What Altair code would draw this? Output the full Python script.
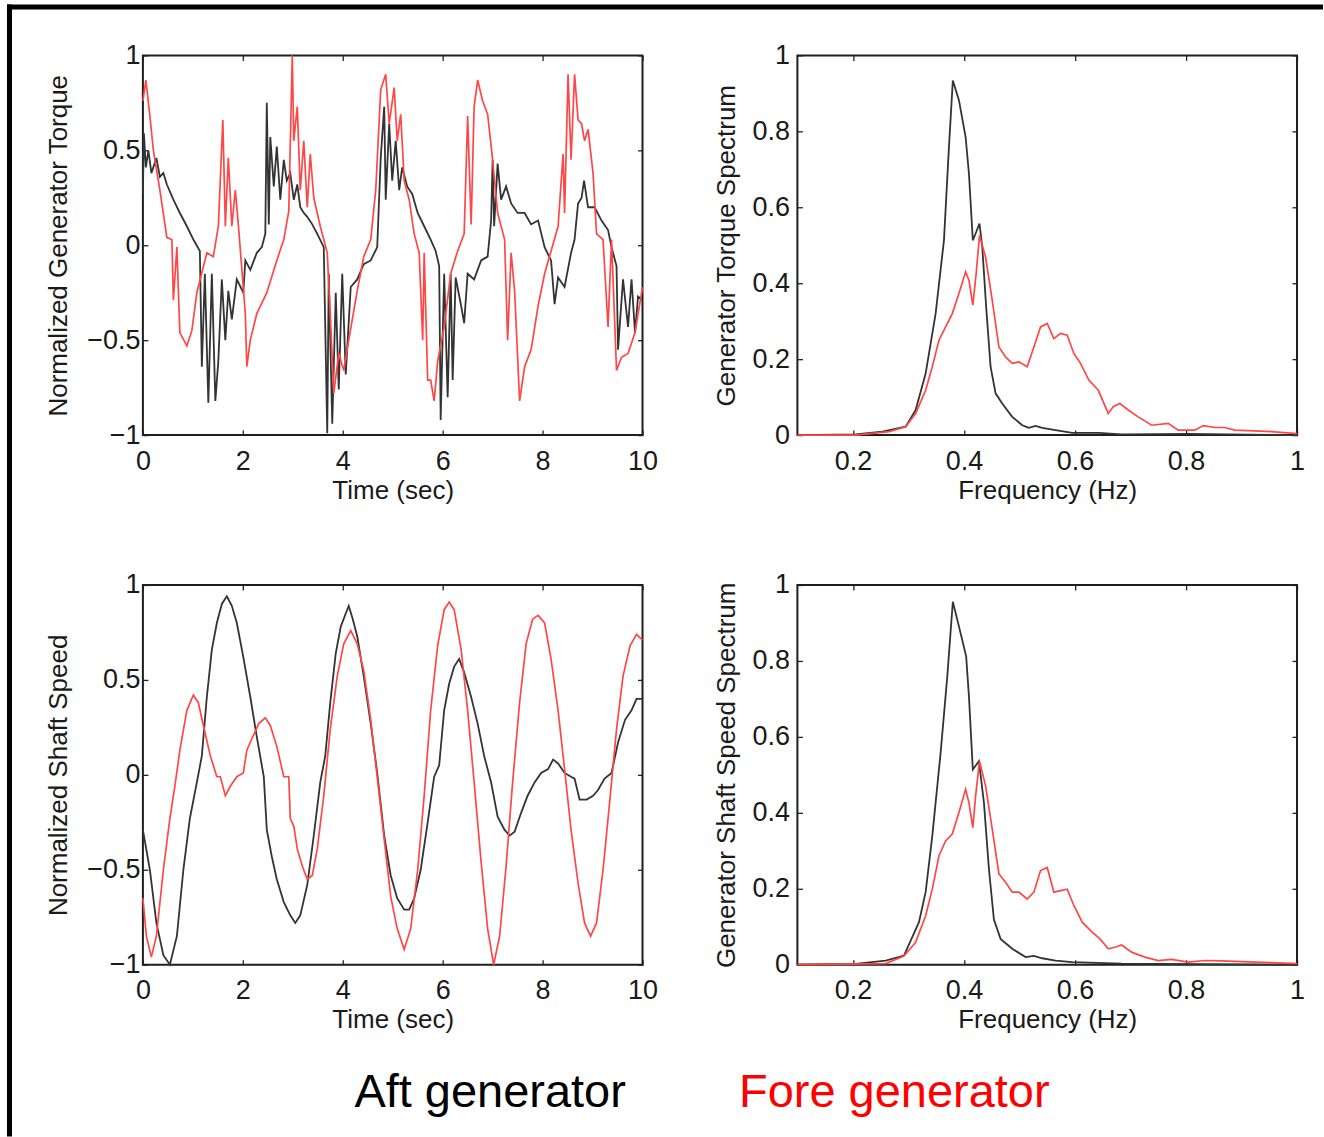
import altair as alt
import pandas as pd

# ---------------- data ----------------
# Normalized generator torque vs time (sec)
TQ_AFT = [(0.00,0.27),(0.02,0.59),(0.06,0.41),(0.11,0.50),(0.17,0.38),(0.27,0.46),(0.34,0.36),(0.41,0.38),
          (0.48,0.32),(0.61,0.24),(0.74,0.17),(0.88,0.10),(1.01,0.03),(1.14,-0.03),(1.18,-0.64),(1.24,-0.15),
          (1.31,-0.83),(1.38,-0.15),(1.45,-0.82),(1.51,-0.61),(1.58,-0.18),(1.65,-0.50),(1.71,-0.24),(1.78,-0.39),
          (1.88,-0.18),(2.01,-0.25),(2.05,-0.08),(2.15,-0.13),(2.28,-0.04),(2.38,-0.01),(2.45,0.06),(2.48,0.75),
          (2.52,0.11),(2.55,0.57),(2.62,0.31),(2.68,0.52),(2.75,0.24),(2.82,0.45),(2.88,0.34),(2.95,0.38),
          (3.02,0.24),(3.09,0.32),(3.15,0.20),(3.22,0.17),(3.29,0.15),(3.39,0.11),(3.49,0.06),(3.62,-0.01),
          (3.69,-0.99),(3.72,-0.15),(3.79,-0.94),(3.86,-0.25),(3.92,-0.76),(3.99,-0.15),(4.06,-0.68),(4.16,-0.22),
          (4.29,-0.18),(4.42,-0.10),(4.56,-0.08),(4.69,-0.01),(4.76,0.46),(4.83,0.73),(4.86,0.24),(4.93,0.64),
          (4.99,0.34),(5.06,0.55),(5.13,0.29),(5.19,0.41),(5.29,0.31),(5.39,0.27),(5.50,0.17),(5.63,0.10),
          (5.76,0.03),(5.86,-0.03),(5.93,-0.11),(5.96,-0.92),(6.03,-0.15),(6.10,-0.80),(6.16,-0.15),(6.20,-0.71),
          (6.26,-0.17),(6.37,-0.32),(6.43,-0.41),(6.50,-0.15),(6.63,-0.18),(6.77,-0.08),(6.90,-0.06),(6.97,0.13),
          (7.00,0.45),(7.03,0.10),(7.10,0.43),(7.17,0.24),(7.27,0.31),(7.37,0.22),(7.50,0.17),(7.64,0.17),
          (7.77,0.11),(7.91,0.13),(8.04,-0.01),(8.17,-0.08),(8.24,-0.31),(8.31,-0.17),(8.44,-0.22),(8.57,-0.04),
          (8.64,0.03),(8.71,0.22),(8.78,0.25),(8.83,0.34),(8.91,0.20),(9.04,0.20),(9.18,0.13),(9.31,0.08),
          (9.38,-0.01),(9.48,-0.11),(9.51,-0.55),(9.61,-0.18),(9.71,-0.43),(9.78,-0.18),(9.85,-0.46),(9.91,-0.27),
          (10.0,-0.29)]
TQ_FORE = [(0.00,0.76),(0.06,0.87),(0.14,0.68),(0.21,0.50),(0.34,0.29),(0.48,0.04),(0.58,0.03),(0.61,-0.29),
           (0.68,-0.01),(0.74,-0.46),(0.88,-0.53),(0.98,-0.45),(1.08,-0.25),(1.28,-0.04),(1.41,-0.06),(1.51,0.10),
           (1.60,0.66),(1.65,0.10),(1.71,0.46),(1.78,0.10),(1.85,0.29),(1.91,0.11),(2.05,-0.36),(2.08,-0.64),
           (2.15,-0.50),(2.28,-0.36),(2.48,-0.25),(2.68,-0.08),(2.82,0.03),(2.92,0.18),(2.99,1.00),(3.02,0.55),
           (3.09,0.73),(3.15,0.29),(3.22,0.55),(3.29,0.20),(3.35,0.48),(3.42,0.25),(3.55,0.10),(3.69,-0.04),
           (3.75,-0.36),(3.82,-0.78),(3.92,-0.57),(4.02,-0.66),(4.12,-0.50),(4.29,-0.24),(4.42,-0.06),(4.56,0.03),
           (4.66,0.29),(4.76,0.82),(4.86,0.90),(4.93,0.64),(5.03,0.83),(5.09,0.55),(5.16,0.69),(5.23,0.34),
           (5.33,0.24),(5.43,0.06),(5.53,-0.04),(5.60,-0.50),(5.63,-0.04),(5.70,-0.71),(5.76,-0.71),(5.83,-0.82),
           (5.90,-0.61),(6.03,-0.43),(6.16,-0.15),(6.30,-0.03),(6.43,0.06),(6.50,0.68),(6.57,0.11),(6.63,0.73),
           (6.70,0.87),(6.80,0.76),(6.90,0.69),(7.00,0.45),(7.10,0.17),(7.24,0.03),(7.30,-0.50),(7.37,-0.04),
           (7.44,-0.24),(7.54,-0.82),(7.64,-0.64),(7.77,-0.55),(7.91,-0.32),(8.04,-0.15),(8.17,-0.03),(8.31,0.10),
           (8.41,0.48),(8.44,0.17),(8.51,0.90),(8.57,0.45),(8.64,0.90),(8.71,0.66),(8.78,0.64),(8.84,0.55),
           (8.91,0.61),(9.01,0.38),(9.08,0.06),(9.21,0.03),(9.31,-0.43),(9.38,0.03),(9.48,-0.66),(9.58,-0.59),
           (9.71,-0.57),(9.85,-0.46),(10.0,-0.22)]

# Normalized shaft speed vs time (sec)
SP_AFT = [(0.00,-0.29),(0.14,-0.50),(0.27,-0.78),(0.41,-0.95),(0.54,-1.00),(0.68,-0.85),(0.81,-0.50),(0.94,-0.23),
          (1.08,-0.04),(1.18,0.10),(1.28,0.41),(1.38,0.66),(1.48,0.80),(1.58,0.90),(1.68,0.94),(1.78,0.89),
          (1.88,0.80),(2.01,0.62),(2.15,0.41),(2.28,0.20),(2.42,-0.01),(2.48,-0.29),(2.58,-0.43),(2.68,-0.55),
          (2.82,-0.67),(2.95,-0.74),(3.05,-0.78),(3.15,-0.74),(3.29,-0.58),(3.42,-0.32),(3.55,-0.04),(3.65,0.10),
          (3.75,0.38),(3.86,0.64),(3.96,0.78),(4.06,0.85),(4.12,0.89),(4.19,0.83),(4.29,0.73),(4.42,0.52),
          (4.56,0.27),(4.69,0.01),(4.83,-0.32),(4.96,-0.53),(5.09,-0.65),(5.23,-0.71),(5.33,-0.71),(5.43,-0.65),
          (5.56,-0.50),(5.70,-0.25),(5.83,-0.01),(5.93,0.05),(6.03,0.34),(6.13,0.48),(6.23,0.57),(6.33,0.61),
          (6.43,0.54),(6.57,0.41),(6.70,0.27),(6.83,0.10),(6.97,-0.04),(7.10,-0.22),(7.24,-0.29),(7.34,-0.32),
          (7.44,-0.30),(7.57,-0.20),(7.70,-0.11),(7.84,-0.04),(7.97,0.01),(8.11,0.03),(8.21,0.08),(8.31,0.06),
          (8.44,0.01),(8.57,-0.01),(8.64,-0.02),(8.74,-0.13),(8.88,-0.13),(9.01,-0.11),(9.11,-0.08),(9.24,-0.02),
          (9.38,0.01),(9.51,0.17),(9.65,0.29),(9.78,0.34),(9.88,0.40),(10.0,0.40)]
SP_FORE = [(0.00,-0.65),(0.07,-0.85),(0.17,-0.96),(0.27,-0.85),(0.41,-0.50),(0.54,-0.23),(0.64,-0.06),(0.74,0.13),
           (0.88,0.34),(1.01,0.42),(1.11,0.38),(1.21,0.26),(1.35,0.10),(1.48,-0.01),(1.55,-0.01),(1.65,-0.11),
           (1.75,-0.06),(1.88,-0.01),(2.01,0.01),(2.08,0.13),(2.18,0.19),(2.32,0.27),(2.45,0.30),(2.55,0.26),
           (2.68,0.15),(2.82,-0.01),(2.92,-0.01),(2.95,-0.23),(3.02,-0.27),(3.09,-0.39),(3.19,-0.48),(3.29,-0.55),
           (3.39,-0.53),(3.49,-0.39),(3.62,-0.11),(3.75,0.24),(3.89,0.52),(4.02,0.69),(4.16,0.76),(4.29,0.69),
           (4.42,0.55),(4.56,0.29),(4.69,-0.01),(4.83,-0.34),(4.96,-0.64),(5.09,-0.81),(5.23,-0.92),(5.36,-0.81),
           (5.50,-0.50),(5.63,-0.11),(5.76,0.34),(5.90,0.68),(6.03,0.87),(6.13,0.91),(6.23,0.87),(6.37,0.66),
           (6.50,0.34),(6.63,-0.04),(6.77,-0.46),(6.90,-0.81),(7.02,-1.00),(7.14,-0.85),(7.27,-0.48),(7.40,-0.04),
           (7.54,0.38),(7.67,0.69),(7.80,0.82),(7.91,0.84),(8.04,0.80),(8.17,0.61),(8.31,0.34),(8.44,0.03),
           (8.57,-0.29),(8.71,-0.57),(8.84,-0.78),(8.96,-0.85),(9.08,-0.78),(9.21,-0.50),(9.34,-0.15),(9.48,0.24),
           (9.61,0.52),(9.75,0.68),(9.88,0.74),(10.0,0.71)]

# Generator torque spectrum vs frequency (Hz)
TQS_AFT = [(0.100,0.000),(0.205,0.002),(0.253,0.009),(0.295,0.022),(0.313,0.066),(0.331,0.162),(0.349,0.320),
           (0.364,0.513),(0.373,0.759),(0.380,0.934),(0.391,0.882),(0.403,0.785),(0.409,0.689),(0.416,0.513),
           (0.421,0.531),(0.428,0.557),(0.433,0.496),(0.440,0.338),(0.448,0.180),(0.457,0.110),(0.469,0.083),
           (0.487,0.048),(0.505,0.026),(0.517,0.019),(0.529,0.024),(0.541,0.019),(0.565,0.013),(0.595,0.006),
           (0.643,0.006),(0.684,0.002),(0.804,0.003),(1.000,0.000)]
TQS_FORE = [(0.100,0.000),(0.205,0.000),(0.265,0.009),(0.295,0.022),(0.313,0.057),(0.331,0.118),(0.343,0.180),
            (0.355,0.250),(0.367,0.285),(0.379,0.320),(0.391,0.373),(0.403,0.430),(0.409,0.408),(0.416,0.342),
            (0.422,0.425),(0.428,0.526),(0.439,0.469),(0.451,0.355),(0.463,0.232),(0.475,0.206),(0.487,0.189),
            (0.499,0.193),(0.514,0.180),(0.526,0.232),(0.538,0.285),(0.550,0.294),(0.562,0.254),(0.574,0.268),
            (0.586,0.263),(0.598,0.215),(0.610,0.189),(0.625,0.145),(0.642,0.118),(0.660,0.057),(0.669,0.075),
            (0.681,0.083),(0.696,0.066),(0.714,0.048),(0.738,0.026),(0.768,0.031),(0.786,0.013),(0.816,0.013),
            (0.831,0.025),(0.852,0.020),(0.870,0.020),(0.888,0.013),(0.924,0.011),(0.954,0.009),(1.000,0.004)]

# Generator shaft speed spectrum vs frequency (Hz)
SPS_AFT = [(0.100,0.000),(0.205,0.002),(0.259,0.011),(0.292,0.024),(0.319,0.112),(0.331,0.191),(0.343,0.339),
           (0.358,0.558),(0.370,0.759),(0.380,0.956),(0.391,0.891),(0.404,0.812),(0.409,0.707),(0.416,0.514),
           (0.427,0.536),(0.436,0.427),(0.445,0.252),(0.454,0.119),(0.466,0.068),(0.487,0.042),(0.511,0.020),
           (0.526,0.023),(0.541,0.017),(0.565,0.011),(0.595,0.007),(0.684,0.003),(1.000,0.000)]
SPS_FORE = [(0.100,0.000),(0.259,0.003),(0.292,0.023),(0.313,0.059),(0.331,0.129),(0.343,0.199),(0.355,0.287),
            (0.367,0.326),(0.379,0.344),(0.391,0.401),(0.403,0.462),(0.409,0.427),(0.416,0.361),(0.421,0.444),
            (0.428,0.536),(0.439,0.471),(0.451,0.357),(0.463,0.239),(0.475,0.217),(0.487,0.191),(0.499,0.191),
            (0.514,0.173),(0.526,0.191),(0.538,0.248),(0.550,0.256),(0.562,0.191),(0.574,0.195),(0.586,0.199),
            (0.598,0.156),(0.613,0.112),(0.631,0.086),(0.645,0.068),(0.660,0.042),(0.672,0.046),(0.684,0.052),
            (0.702,0.033),(0.726,0.020),(0.750,0.011),(0.774,0.014),(0.804,0.007),(0.834,0.011),(0.864,0.010),
            (0.924,0.007),(1.000,0.003)]

TIME_TICKS = [0, 2, 4, 6, 8, 10]
NORM_TICKS = [-1, -0.5, 0, 0.5, 1]
FREQ_TICKS = [0.2, 0.4, 0.6, 0.8, 1]
SPEC_TICKS = [0, 0.2, 0.4, 0.6, 0.8, 1]
LEGEND_LABELS = ["Aft generator", "Fore generator"]

# ---------------- styling ----------------
AXFONT = "Liberation Sans"
BLACK = "#333333"
RED = "#ff4747"
W, H = 500, 380


def frame_df(pairs):
    return pd.DataFrame(pairs, columns=["x", "y"])


def panel(aft, fore, xdom, ydom, xticks, yticks, xfmt, xtitle, ytitle, lpad, ytp):
    xs = alt.Scale(domain=xdom, nice=False, zero=False)
    ys = alt.Scale(domain=ydom, nice=False, zero=False)
    common = dict(offset=-5, tickSize=5, tickWidth=1.3, tickColor="#222222", domain=False, grid=False,
                  labelFlush=False, labelOverlap=False)
    ax_b = alt.Axis(orient="bottom", values=xticks, format=xfmt, title=xtitle, labelPadding=13,
                    titlePadding=3, **common)
    ax_l = alt.Axis(orient="left", values=yticks, format="~g", title=ytitle, labelPadding=lpad,
                    titlePadding=ytp, **common)
    ax_t = alt.Axis(orient="top", values=xticks, title=None, labels=False, **common)
    ax_r = alt.Axis(orient="right", values=yticks, title=None, labels=False, **common)
    a = alt.Chart(frame_df(aft)).mark_line(color=BLACK, strokeWidth=1.8).encode(
        x=alt.X("x:Q", scale=xs, axis=ax_b),
        y=alt.Y("y:Q", scale=ys, axis=ax_l),
    )
    f = alt.Chart(frame_df(fore)).mark_line(color=RED, strokeWidth=1.7).encode(
        x=alt.X("x:Q", scale=xs, axis=ax_t),
        y=alt.Y("y:Q", scale=ys, axis=ax_r),
    )
    return a, f


tl = alt.layer(*panel(TQ_AFT, TQ_FORE, [0, 10], [-1, 1], TIME_TICKS, NORM_TICKS, "d",
                      "Time (sec)", "Normalized Generator Torque", 3, 15))
tr = alt.layer(*panel(TQS_AFT, TQS_FORE, [0.1, 1], [0, 1], FREQ_TICKS, SPEC_TICKS, "~g",
                      "Frequency (Hz)", "Generator Torque Spectrum", 8, 12))
br = alt.layer(*panel(SPS_AFT, SPS_FORE, [0.1, 1], [0, 1], FREQ_TICKS, SPEC_TICKS, "~g",
                      "Frequency (Hz)", "Generator Shaft Speed Spectrum", 8, 12))

bl_a, bl_f = panel(SP_AFT, SP_FORE, [0, 10], [-1, 1], TIME_TICKS, NORM_TICKS, "d",
                   "Time (sec)", "Normalized Shaft Speed", 3, 15)

one = pd.DataFrame({"k": [0]})
aft_txt = alt.Chart(pd.DataFrame({"label": [LEGEND_LABELS[0]]})).mark_text(
    font="Liberation Sans", fontSize=47, color="#000000", align="center", baseline="alphabetic"
).encode(text="label:N", x=alt.value(347.5), y=alt.value(522))
fore_txt = alt.Chart(pd.DataFrame({"label": [LEGEND_LABELS[1]]})).mark_text(
    font="Liberation Sans", fontSize=47, color="#ff0000", align="center", baseline="alphabetic"
).encode(text="label:N", x=alt.value(752), y=alt.value(522))
# outer frame (top and left edges), filled bars so their bounds are exact
frame_top = alt.Chart(one).mark_rect(color="#000000", strokeWidth=0).encode(
    x=alt.value(-136), x2=alt.value(1181), y=alt.value(-581), y2=alt.value(-576))
frame_left = alt.Chart(one).mark_rect(color="#000000", strokeWidth=0).encode(
    x=alt.value(-136), x2=alt.value(-131), y=alt.value(-581), y2=alt.value(552))

bl = alt.layer(bl_a, bl_f, aft_txt, fore_txt, frame_top, frame_left)

panels = []
for p in (tl, tr, bl, br):
    panels.append(p.resolve_axis(x="independent", y="independent").properties(width=W, height=H))

chart = alt.concat(
    *panels, columns=2, spacing=alt.RowColnumber(row=150, column=155), bounds="flush"
).properties(
    padding={"left": 6, "top": 3, "right": 0, "bottom": 0}, background="#ffffff"
).configure_view(
    stroke="#1e1e1e", strokeWidth=2
).configure_axis(
    labelFont=AXFONT, titleFont=AXFONT, labelFontSize=27, titleFontSize=26,
    titleFontWeight="normal", labelColor="#1a1a1a", titleColor="#1a1a1a"
)

chart.save("out.html", embed_options={"renderer": "svg", "actions": False})
